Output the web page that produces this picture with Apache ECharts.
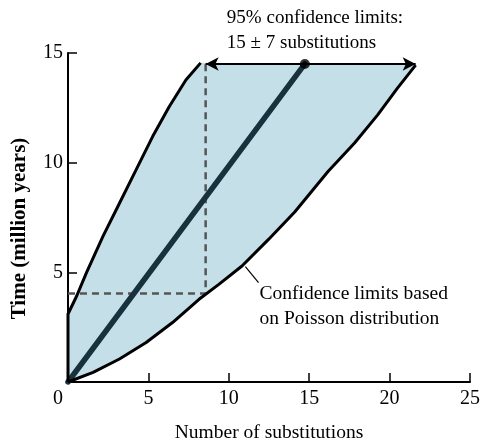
<!DOCTYPE html>
<html><head><meta charset="utf-8">
<script src="https://cdn.jsdelivr.net/npm/echarts@6/dist/echarts.min.js"></script>
<style>html,body{margin:0;padding:0;background:#fff}#c{width:483px;height:448px}</style>
</head><body><div id="c"></div>
<script>
// Upper (left) confidence limit boundary
const upperX = [0, 0, 0.12, 0.54, 1.15, 2.18, 3.1, 4.24, 5.27, 6.3, 7.33, 8.25];
const upperY = [0, 3.1, 3.17, 3.92, 4.99, 6.65, 8.0, 9.68, 11.2, 12.56, 13.77, 14.55];
// Lower (right) confidence limit boundary
const lowerX = [0, 1.56, 3.2, 4.86, 6.5, 8.15, 9.38, 10.82, 12.47, 14.1, 16.17, 17.82, 19.26, 20.49, 21.62];
const lowerY = [0, 0.44, 1.05, 1.8, 2.71, 3.77, 4.45, 5.29, 6.5, 7.75, 9.6, 10.9, 12.18, 13.4, 14.45];
// Central estimate line
const centerX = [0, 14.73];
const centerY = [0, 14.5];
// Confidence limits at the observed time
const limitLow = 8.56, limitHigh = 21.62, limitTime = 14.5;
const dashTime = 4.03;
// Leader line for annotation
const leaderX = [11.03, 11.85];
const leaderY = [5.26, 4.53];
// Axis ticks
const xTicks = [0, 5, 10, 15, 20, 25];
const yTicks = [0, 5, 10, 15];
// Texts
const titleLines = ['95% confidence limits:', '15 \u00b1 7 substitutions'];
const noteLines = ['Confidence limits based', 'on Poisson distribution'];
const xName = 'Number of substitutions';
const yName = 'Time (million years)';

const FONT = '"Liberation Serif", "DejaVu Serif", serif';
const zip = (a, b) => a.map((v, i) => [v, b[i]]);

// polygon: upper boundary, along the top, then back down the lower boundary
const polyPts = zip(upperX, upperY).concat(zip(lowerX, lowerY).reverse());

const chart = echarts.init(document.getElementById('c'));
chart.setOption({
  animation: false,
  grid: {left: 68, right: 10, top: 53, bottom: 65},
  xAxis: {
    type: 'value', min: xTicks[0], max: xTicks[xTicks.length - 1], interval: 5,
    axisLine: {lineStyle: {color: '#000', width: 2}},
    axisTick: {inside: true, length: 9, lineStyle: {color: '#000', width: 1.5}},
    splitLine: {show: false},
    axisLabel: {
      margin: 7, color: '#000', fontFamily: FONT, fontSize: 20,
      formatter: v => v === 0 ? '{z|0}' : String(v),
      rich: {z: {padding: [0, 20, 0, 0], fontFamily: FONT, fontSize: 20, color: '#000'}}
    },
    name: xName, nameLocation: 'middle', nameGap: 41,
    nameTextStyle: {fontFamily: FONT, fontSize: 19.5, color: '#000'}
  },
  yAxis: {
    type: 'value', min: yTicks[0], max: yTicks[yTicks.length - 1], interval: 5,
    axisLine: {lineStyle: {color: '#000', width: 2}},
    axisTick: {inside: true, length: 9, lineStyle: {color: '#000', width: 1.5}},
    splitLine: {show: false},
    axisLabel: {margin: 5, color: '#000', fontFamily: FONT, fontSize: 20,
      formatter: v => v === 0 ? '' : String(v)},
    name: yName, nameLocation: 'middle', nameGap: 38, nameRotate: 90,
    nameTextStyle: {fontFamily: FONT, fontSize: 21, fontWeight: 'bold', color: '#000', padding: [0, 22, 0, 0]}
  },
  series: [
    {
      type: 'custom', clip: false, silent: true, data: [[0, 0]], z: 1,
      renderItem: (params, api) => ({
        type: 'polygon',
        shape: {points: polyPts.map(p => api.coord(p)), smooth: 0},
        style: {fill: '#c4dfe8'}
      })
    },
    {
      type: 'line', data: [[0, dashTime], [limitLow, dashTime], [limitLow, limitTime]],
      symbol: 'none', silent: true, z: 2,
      lineStyle: {color: '#555', width: 2.5, type: [7, 5]}
    },
    {
      type: 'line', data: zip(centerX, centerY), symbol: 'none', silent: true, z: 3,
      lineStyle: {color: '#17323c', width: 5.5, cap: 'round'}
    },
    {
      type: 'line', data: zip(upperX, upperY), symbol: 'none', silent: true, z: 4,
      lineStyle: {color: '#000', width: 3}
    },
    {
      type: 'line', data: zip(lowerX, lowerY), symbol: 'none', silent: true, z: 4,
      lineStyle: {color: '#000', width: 3},
      markLine: {
        silent: true, symbol: ['arrow', 'arrow'], symbolSize: [10, 13], precision: 3,
        label: {show: false},
        lineStyle: {color: '#000', width: 1.8, type: 'solid'},
        data: [[{coord: [limitLow, limitTime]}, {coord: [limitHigh, limitTime]}]]
      }
    },
    {
      type: 'line', data: zip(leaderX, leaderY), symbol: 'none', silent: true, z: 4,
      lineStyle: {color: '#000', width: 1.2}
    },
    {
      type: 'scatter', data: [[centerX[1], centerY[1]]], symbolSize: 10, silent: true, z: 6,
      itemStyle: {color: '#000'}
    },
    {
      type: 'custom', clip: false, silent: true, data: [[9.88, 16.59], [9.88, 15.45]], z: 7,
      renderItem: (params, api) => {
        const p = api.coord([api.value(0), api.value(1)]);
        return {type: 'text', x: p[0], y: p[1],
          style: {text: titleLines[params.dataIndex], font: '19px ' + FONT, fill: '#000',
            textAlign: 'left', textVerticalAlign: 'middle'}};
      }
    },
    {
      type: 'custom', clip: false, silent: true, data: [[11.91, 4.0], [11.91, 2.86]], z: 7,
      renderItem: (params, api) => {
        const p = api.coord([api.value(0), api.value(1)]);
        return {type: 'text', x: p[0], y: p[1],
          style: {text: noteLines[params.dataIndex], font: '19.5px ' + FONT, fill: '#000',
            textAlign: 'left', textVerticalAlign: 'middle'}};
      }
    }
  ]
});
</script>
</body></html>
